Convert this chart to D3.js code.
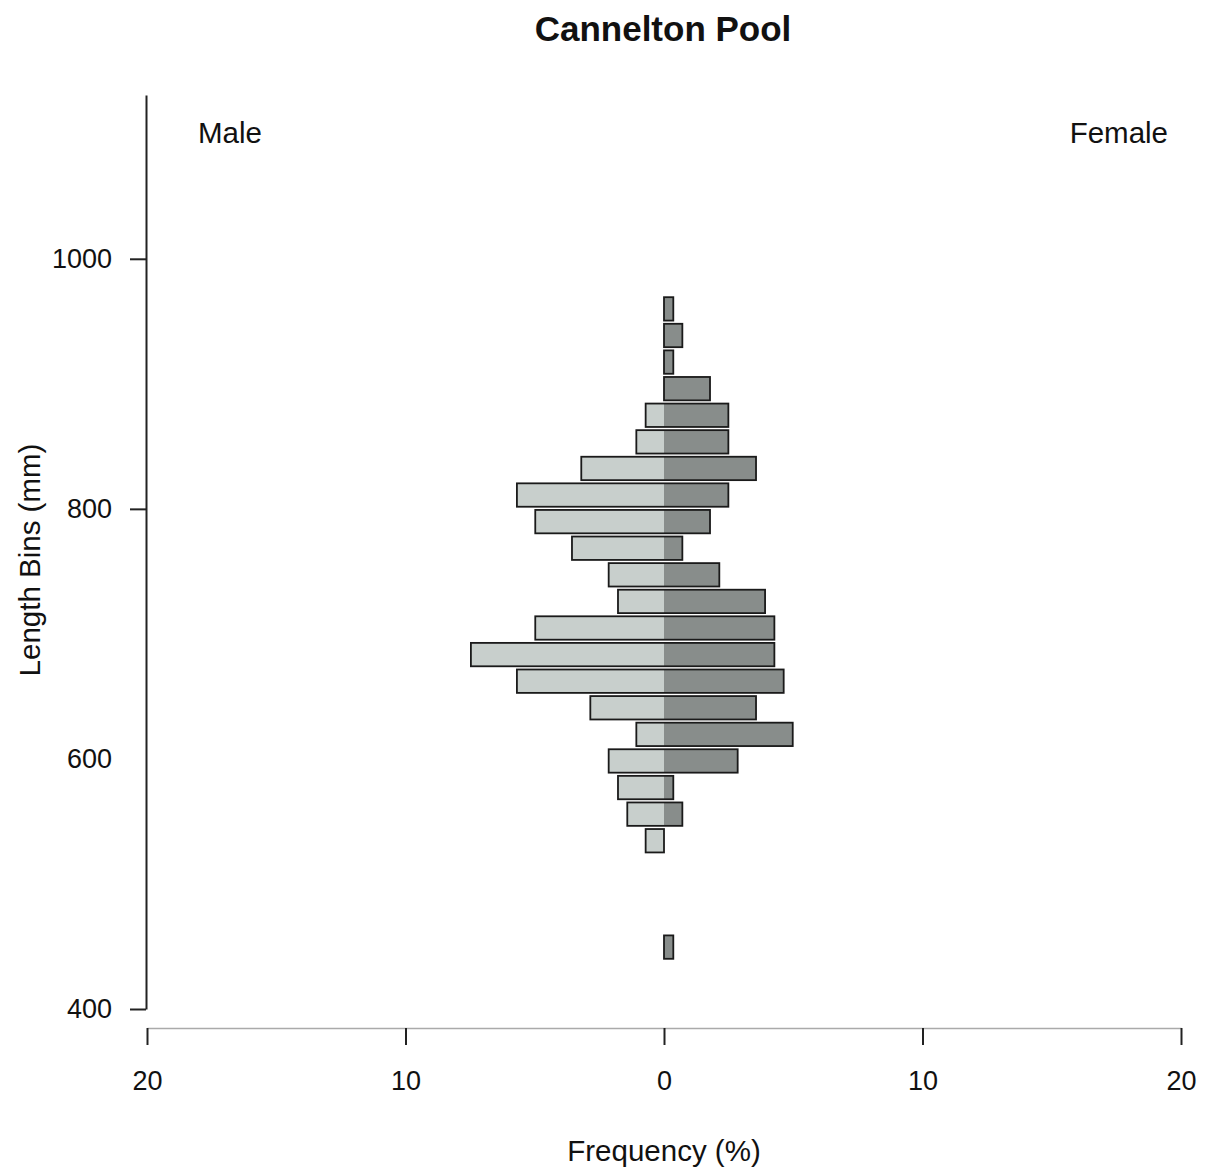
<!DOCTYPE html>
<html>
<head>
<meta charset="utf-8">
<script src="https://cdn.jsdelivr.net/npm/d3@7"></script>
<style>
  body { margin: 0; background: #fff; }
  text { font-family: "Liberation Sans", Arial, sans-serif; fill: #111; }
</style>
</head>
<body>
<svg id="chart" width="1206" height="1170"></svg>
<script>
// length bins (mm, lower edge), top to bottom
const bins = [960, 940, 920, 900, 880, 860, 840, 820, 800, 780, 760, 740, 720,
              700, 680, 660, 640, 620, 600, 580, 560, 540, 520, 500, 480];
// frequency (%) per bin
const male = [0, 0, 0, 0, 0.71, 1.07, 3.20, 5.69, 4.98, 3.56, 2.14, 1.78, 4.98,
              7.47, 5.69, 2.85, 1.07, 2.14, 1.78, 1.42, 0.71, 0, 0, 0, 0];
const female = [0.36, 0.71, 0.36, 1.78, 2.49, 2.49, 3.56, 2.49, 1.78, 0.71, 2.14, 3.91, 4.27,
                4.27, 4.63, 3.56, 4.98, 2.85, 0.36, 0.71, 0, 0, 0, 0, 0.36];
const xTicks = [-20, -10, 0, 10, 20];
const yTicks = [400, 600, 800, 1000];

const svg = d3.select("#chart");

const x = d3.scaleLinear()
  .domain([-20, 20])
  .range([147, 1181]);

// axis scale for length
const y = d3.scaleLinear()
  .domain([400, 1131])
  .range([1009, 95]);

// bar rows
const yb = d3.scaleBand()
  .domain(bins)
  .range([294, 962])
  .padding(0.12);

const rows = bins.map((b, i) => ({ bin: b, m: male[i], f: female[i] }))
  .filter(d => d.m > 0 || d.f > 0);

const bars = svg.append("g").attr("class", "bars");

bars.selectAll(".male")
  .data(rows.filter(d => d.m > 0))
  .enter()
  .append("rect")
  .attr("class", "male")
  .attr("x", d => x(-d.m))
  .attr("y", d => yb(d.bin))
  .attr("width", d => x(0) - x(-d.m))
  .attr("height", yb.bandwidth())
  .attr("fill", "#c8cfcc");

bars.selectAll(".female")
  .data(rows.filter(d => d.f > 0))
  .enter()
  .append("rect")
  .attr("class", "female")
  .attr("x", x(0))
  .attr("y", d => yb(d.bin))
  .attr("width", d => x(d.f) - x(0))
  .attr("height", yb.bandwidth())
  .attr("fill", "#888d8b");

bars.selectAll(".outline")
  .data(rows)
  .enter()
  .append("rect")
  .attr("class", "outline")
  .attr("x", d => x(-d.m))
  .attr("y", d => yb(d.bin))
  .attr("width", d => x(d.f) - x(-d.m))
  .attr("height", yb.bandwidth())
  .attr("fill", "none")
  .attr("stroke", "#1a1a1a")
  .attr("stroke-width", 1.8);

// y axis
const yAxis = svg.append("g")
  .attr("transform", "translate(146,0)")
  .call(d3.axisLeft(y).tickValues(yTicks).tickSize(16).tickSizeOuter(0).tickPadding(18)
    .tickFormat(d3.format("d")));
yAxis.select(".domain").attr("stroke", "#222").attr("stroke-width", 2);
yAxis.selectAll(".tick line")
  .attr("stroke", "#222")
  .attr("stroke-width", 2)
  .attr("stroke-opacity", d => d === 600 ? 0 : 1);
yAxis.selectAll(".tick text")
  .style("font-size", "27px")
  .attr("fill", "#111");

// x axis
const xAxis = svg.append("g")
  .attr("transform", "translate(0,1028)")
  .call(d3.axisBottom(x).tickValues(xTicks).tickSize(17).tickSizeOuter(0).tickPadding(26)
    .tickFormat(d => Math.abs(d)));
xAxis.select(".domain").attr("stroke", "#aaa").attr("stroke-width", 1.5);
xAxis.selectAll(".tick line").attr("stroke", "#222").attr("stroke-width", 2);
xAxis.selectAll(".tick text")
  .style("font-size", "27px")
  .attr("fill", "#111");

// titles and labels
svg.append("text")
  .attr("x", 663)
  .attr("y", 41)
  .attr("text-anchor", "middle")
  .style("font-size", "35px")
  .style("font-weight", "bold")
  .text("Cannelton Pool");

svg.append("text")
  .attr("x", 198)
  .attr("y", 143)
  .style("font-size", "29.5px")
  .text("Male");

svg.append("text")
  .attr("x", 1168)
  .attr("y", 143)
  .attr("text-anchor", "end")
  .style("font-size", "29.5px")
  .text("Female");

svg.append("text")
  .attr("x", 664)
  .attr("y", 1161)
  .attr("text-anchor", "middle")
  .style("font-size", "29.5px")
  .text("Frequency (%)");

svg.append("text")
  .attr("transform", "translate(40,560) rotate(-90)")
  .attr("text-anchor", "middle")
  .style("font-size", "29.5px")
  .text("Length Bins (mm)");
</script>
</body>
</html>
